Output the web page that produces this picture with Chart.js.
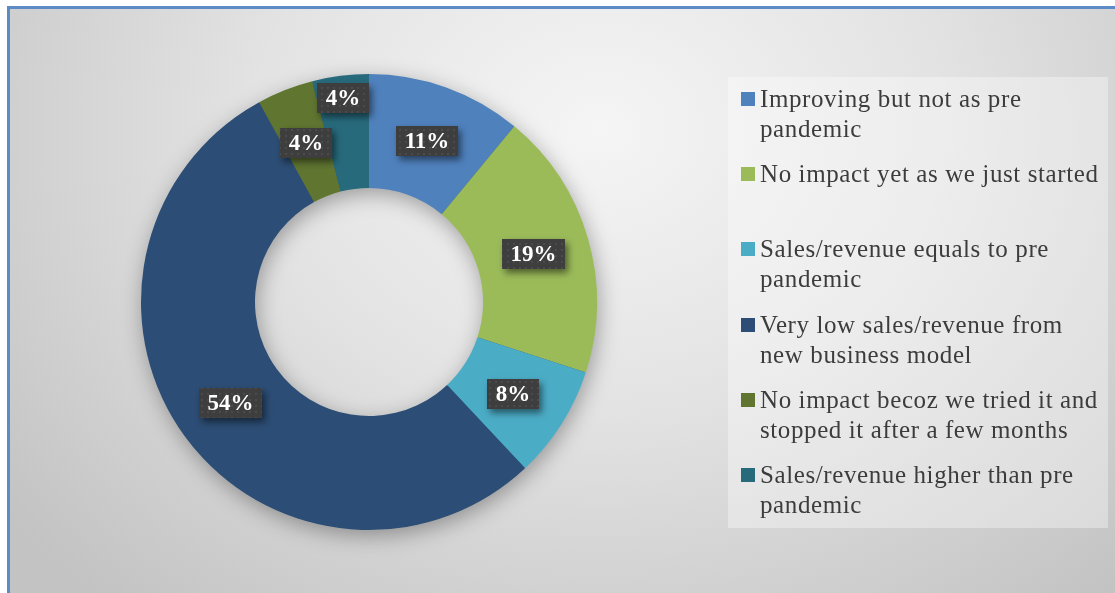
<!DOCTYPE html>
<html>
<head>
<meta charset="utf-8">
<script src="https://cdn.jsdelivr.net/npm/chart.js@4.4.1/dist/chart.umd.min.js"></script>
<style>
  html, body { margin: 0; padding: 0; width: 1115px; height: 593px; overflow: hidden; }
  #frame {
    position: absolute; left: 7px; top: 6px; width: 1130px; height: 610px;
    box-sizing: border-box; border: 3px solid #5b8ac6;
    background: radial-gradient(ellipse 760px 620px at 590px 120px, #f5f5f5 0%, #e3e3e3 45%, #c3c3c3 100%);
  }
  #chart { position: absolute; left: 0; top: 0; }
  #legend {
    position: absolute; left: 728px; top: 77px; width: 380px; height: 451px;
    background: rgba(255, 255, 255, 0.35);
    font-family: "Liberation Serif", serif; font-size: 25px; letter-spacing: 0.6px;
    color: #3c3c3c; line-height: 30px;
  }
  .item { position: absolute; left: 13px; white-space: nowrap; }
  .swatch { position: absolute; left: 0; top: 8px; width: 14px; height: 14px; }
  .text { position: absolute; left: 19px; top: 0; }
</style>
</head>
<body>
<div id="frame"></div>
<canvas id="chart" width="1115" height="593"></canvas>
<div id="legend"></div>
<script>
var categories = [
  ['Improving but not as pre', 'pandemic'],
  ['No impact yet as we just started'],
  ['Sales/revenue equals to pre', 'pandemic'],
  ['Very low sales/revenue from', 'new business model'],
  ['No impact becoz we tried it and', 'stopped it after a few months'],
  ['Sales/revenue higher than pre', 'pandemic']
]
var shares = [11, 19, 8, 54, 4, 4]
var sliceColors = ['#4f81bd', '#9bbb59', '#4bacc6', '#2c4d75', '#5f7530', '#276a7c']

// dark dotted fill for the value boxes
function dotPattern(ctx) {
  var tile = document.createElement('canvas')
  tile.width = 6
  tile.height = 6
  var t = tile.getContext('2d')
  t.fillStyle = '#3e3e3e'
  t.fillRect(0, 0, 6, 6)
  t.fillStyle = '#4b4b4b'
  t.fillRect(3, 3, 2, 2)
  return ctx.createPattern(tile, 'repeat')
}

// soft shadow under the whole ring
var ringShadow = {
  id: 'ringShadow',
  beforeDatasetsDraw: function (chart) {
    var arc = chart.getDatasetMeta(0).data[0]
    var p = arc.getProps(['x', 'y', 'innerRadius', 'outerRadius'], true)
    var ctx = chart.ctx
    ctx.save()
    ctx.shadowColor = 'rgba(0, 0, 0, 0.35)'
    ctx.shadowBlur = 22
    ctx.shadowOffsetX = 2
    ctx.shadowOffsetY = 6
    ctx.fillStyle = '#3b5572'
    ctx.beginPath()
    ctx.arc(p.x, p.y, p.outerRadius - 1, 0, Math.PI * 2)
    ctx.arc(p.x, p.y, p.innerRadius + 1, 0, Math.PI * 2, true)
    ctx.fill()
    ctx.restore()
  }
}

// percentage boxes on each slice
var valueBoxes = {
  id: 'valueBoxes',
  afterDatasetsDraw: function (chart, args, opts) {
    var ctx = chart.ctx
    var meta = chart.getDatasetMeta(0)
    var values = chart.data.datasets[0].data
    var fill = dotPattern(ctx)
    ctx.save()
    ctx.font = opts.font
    ctx.textAlign = 'center'
    ctx.textBaseline = 'middle'
    meta.data.forEach(function (arc, i) {
      var p = arc.getProps(['x', 'y', 'startAngle', 'endAngle', 'innerRadius', 'outerRadius'], true)
      var mid = (p.startAngle + p.endAngle) / 2
      var frac = opts.radius[i] != null ? opts.radius[i] : 0.5
      var r = p.innerRadius + (p.outerRadius - p.innerRadius) * frac
      var cx = p.x + Math.cos(mid) * r
      var cy = p.y + Math.sin(mid) * r
      var label = values[i] + '%'
      var w = Math.round(ctx.measureText(label).width + 17)
      var h = 30
      var bx = Math.round(cx - w / 2), by = Math.round(cy - h / 2)
      ctx.shadowColor = 'rgba(0, 0, 0, 0.5)'
      ctx.shadowBlur = 7
      ctx.shadowOffsetX = 3
      ctx.shadowOffsetY = 4
      ctx.fillStyle = fill
      ctx.fillRect(bx, by, w, h)
      ctx.shadowColor = 'transparent'
      ctx.fillStyle = '#ffffff'
      ctx.fillText(label, bx + w / 2, by + h / 2 + 1)
    })
    ctx.restore()
  }
}

var ctx = document.getElementById('chart').getContext('2d')
var chart = new Chart(ctx, {
  type: 'doughnut',
  data: {
    labels: categories,
    datasets: [{
      data: shares,
      backgroundColor: sliceColors,
      borderWidth: 0,
      hoverOffset: 0
    }]
  },
  options: {
    responsive: false,
    animation: false,
    cutout: '50%',
    events: [],
    layout: { padding: { left: 141, top: 74, right: 518, bottom: 63 } },
    plugins: {
      legend: { display: false },
      tooltip: { enabled: false },
      valueBoxes: {
        font: 'bold 23px "Liberation Serif", serif',
        radius: [0.5, 0.5, 0.5, 0.5, 0.5, 0.8]
      }
    }
  },
  plugins: [ringShadow, valueBoxes]
})

// legend list on the right, one slot per slice
var legend = document.getElementById('legend')
chart.data.labels.forEach(function (lines, i) {
  var item = document.createElement('div')
  item.className = 'item'
  item.style.top = (7 + i * 75.2) + 'px'
  var sw = document.createElement('span')
  sw.className = 'swatch'
  sw.style.background = chart.data.datasets[0].backgroundColor[i]
  var tx = document.createElement('span')
  tx.className = 'text'
  tx.innerHTML = lines.join('<br>')
  item.appendChild(sw)
  item.appendChild(tx)
  legend.appendChild(item)
})
</script>
</body>
</html>
